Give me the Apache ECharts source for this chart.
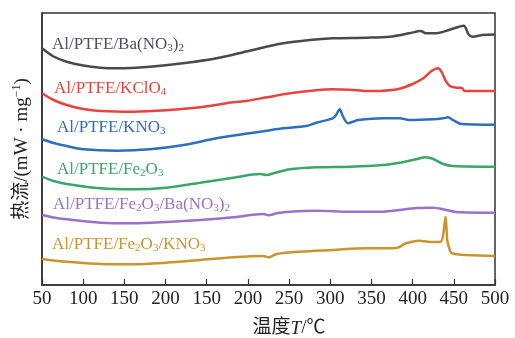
<!DOCTYPE html>
<html>
<head>
    <meta charset="UTF-8">
    <script type="text/javascript" src="https://cdn.jsdelivr.net/npm/echarts@6/dist/echarts.min.js"></script>
    <title>DSC</title>
    <style>
        html, body { margin: 0; padding: 0; background: #fff; }
        #main { width: 515px; height: 338px; }
    </style>
</head>
<body>
    <div id="main"></div>
    <script type="text/javascript">
    // tick labels exactly as printed on the figure (50..200 repeats)
    var xTickLabels = ['50', '100', '150', '200', '150', '200', '250', '300', '350', '400', '450', '500'];

    var seriesNames = ['Al/PTFE/Ba(NO3)2', 'Al/PTFE/KClO4', 'Al/PTFE/KNO3', 'Al/PTFE/Fe2O3',
        'Al/PTFE/Fe2O3/Ba(NO3)2', 'Al/PTFE/Fe2O3/KNO3'];
    var labelTexts = ['Al/PTFE/Ba(NO{s|3}){s|2}', 'Al/PTFE/KClO{s|4}', 'Al/PTFE/KNO{s|3}',
        'Al/PTFE/Fe{s|2}O{s|3}', 'Al/PTFE/Fe{s|2}O{s|3}/Ba(NO{s|3}){s|2}', 'Al/PTFE/Fe{s|2}O{s|3}/KNO{s|3}'];

    // [temperature position on axis, offset heat flow]
    var baNO3 = [[50, 236.7], [64, 228.5], [80, 223.3], [100, 219.5], [121, 217.3], [141, 216.7], [181, 218.3], [221, 221.7],
        [262, 226.7], [302, 234.3], [343, 241.7], [375, 245], [403, 246.7], [444, 247.3], [472, 248.3], [496, 251.7],
        [510, 254], [516, 251.7], [528, 251.7], [544, 255], [562, 259.3], [568, 250.5], [573, 248.3], [585, 250], [600, 250.5]];
    var kclo4 = [[50, 191.7], [64, 185], [80, 180], [100, 176], [121, 174], [161, 173.3], [201, 174.7], [242, 177.7],
        [282, 182.7], [298, 184], [323, 187.7], [351, 191.7], [383, 194.7], [403, 195.7], [424, 195.3], [444, 194],
        [464, 194.3], [484, 196.3], [500, 201], [513, 206.7], [523, 214], [531, 216.7], [535, 213.3], [540, 204.3],
        [545, 199], [553, 197.3], [560, 197], [563, 194], [600, 194]];
    var kno3 = [[50, 145.7], [64, 142], [80, 139], [100, 135.7], [141, 134.3], [181, 135.7], [222, 140], [262, 146.7],
        [302, 151.7], [323, 154.3], [343, 156.7], [371, 159], [383, 162.3], [403, 166.7], [407, 170], [411.5, 175.7],
        [415.5, 168.3], [421.6, 161.7], [427.6, 163.3], [433.7, 165], [464, 166.7], [484, 166.7], [496, 165],
        [525, 165.7], [537, 166.7], [543, 167.7], [549, 165], [559, 161], [600, 160.3]];
    var fe2o3 = [[50, 108.3], [64, 104], [80, 101], [121, 96.7], [161, 95.7], [201, 97.3], [242, 102.3], [282, 107.3],
        [315, 111], [323, 110], [331, 111.7], [351, 115.7], [383, 117.7], [424, 118.3], [464, 120], [484, 122.3],
        [504, 125.7], [516, 127.7], [525, 126], [537, 121], [549, 119], [600, 118.3]];
    var fe2o3BaNO3 = [[50, 70], [64, 67.5], [80, 65.7], [121, 62.3], [161, 61.7], [201, 63], [242, 65], [282, 67.7],
        [319, 71], [325, 69.7], [335, 71.7], [351, 73.3], [383, 74.3], [424, 73.3], [464, 73.3], [484, 75],
        [504, 77], [525, 77.3], [541, 75], [553, 73], [600, 72.3]];
    var fe2o3KNO3 = [[50, 26], [64, 24.5], [80, 23.3], [121, 21], [161, 20.7], [201, 22.3], [242, 25], [282, 27.7],
        [319, 29], [325, 27.7], [335, 31], [363, 33.3], [403, 35], [444, 36.7], [476, 36.7], [482, 37.3], [492, 41.7],
        [508, 44.3], [521, 43], [534, 43.3], [537, 50], [540, 68.3], [542, 45], [544, 38], [547, 32], [556, 30.5],
        [565, 30], [600, 29]];

    var allData = [baNO3, kclo4, kno3, fe2o3, fe2o3BaNO3, fe2o3KNO3];
    var colors = ['#4a4a4a', '#e8443f', '#2f6dbf', '#3ba56a', '#9a72c6', '#c8952f'];
    var textColors = ['#4d4d66', '#e8443f', '#2f6dbf', '#3ba56a', '#9a72c6', '#c8952f'];
    var labelPos = [[52, 45], [54, 89], [57, 128], [57, 170], [53, 205], [52, 245]];

    var serif = '"Liberation Serif", "Noto Sans CJK SC", serif';

    var chart = echarts.init(document.getElementById('main'));

    var series = [];
    var graphics = [];
    for (var i = 0; i < allData.length; i++) {
        series.push({
            name: seriesNames[i],
            type: 'line',
            data: allData[i],
            showSymbol: false,
            smooth: 0.3,
            lineStyle: { color: colors[i], width: 2.5 },
            itemStyle: { color: colors[i] }
        });
        graphics.push({
            type: 'text',
            x: labelPos[i][0],
            y: labelPos[i][1],
            style: {
                text: labelTexts[i],
                fill: textColors[i],
                font: '17px ' + serif,
                verticalAlign: 'middle',
                rich: {
                    s: { fontSize: 11, fontFamily: serif, fill: textColors[i], verticalAlign: 'bottom' }
                }
            }
        });
    }

    var option = {
        animation: false,
        grid: {
            left: 42,
            right: 20,
            top: 13,
            bottom: 53,
            outerBoundsMode: 'none',
            show: true,
            borderColor: '#333',
            borderWidth: 1.5
        },
        xAxis: {
            type: 'value',
            min: 50,
            max: 600,
            interval: 50,
            name: '温度{i|T}/℃',
            nameLocation: 'middle',
            nameGap: 34,
            nameTextStyle: {
                fontFamily: serif,
                fontSize: 19,
                color: '#222',
                padding: [0, 0, 0, 41],
                rich: { i: { fontFamily: serif, fontSize: 19, fontStyle: 'italic', color: '#222' } }
            },
            axisLine: { lineStyle: { color: '#333', width: 1.5 } },
            axisTick: { inside: true, length: 6, lineStyle: { color: '#333', width: 1.2 } },
            axisLabel: {
                margin: 5,
                fontFamily: serif,
                fontSize: 19,
                color: '#222',
                formatter: function(v) {
                    return xTickLabels[Math.round((v - 50) / 50)];
                }
            },
            splitLine: { show: false }
        },
        yAxis: {
            type: 'value',
            min: 0,
            max: 272,
            name: '热流/(mW · mg{sup|−1})',
            nameLocation: 'middle',
            nameGap: 9,
            nameTextStyle: {
                fontFamily: serif,
                fontSize: 19,
                color: '#222',
                lineHeight: 22,
                rich: { sup: { fontFamily: serif, fontSize: 12, color: '#222', verticalAlign: 'top' } }
            },
            axisLine: { show: true, lineStyle: { color: '#333', width: 1.5 } },
            axisTick: { show: false },
            axisLabel: { show: false },
            splitLine: { show: false }
        },
        graphic: graphics,
        series: series
    };
    chart.setOption(option);
    </script>
</body>
</html>
